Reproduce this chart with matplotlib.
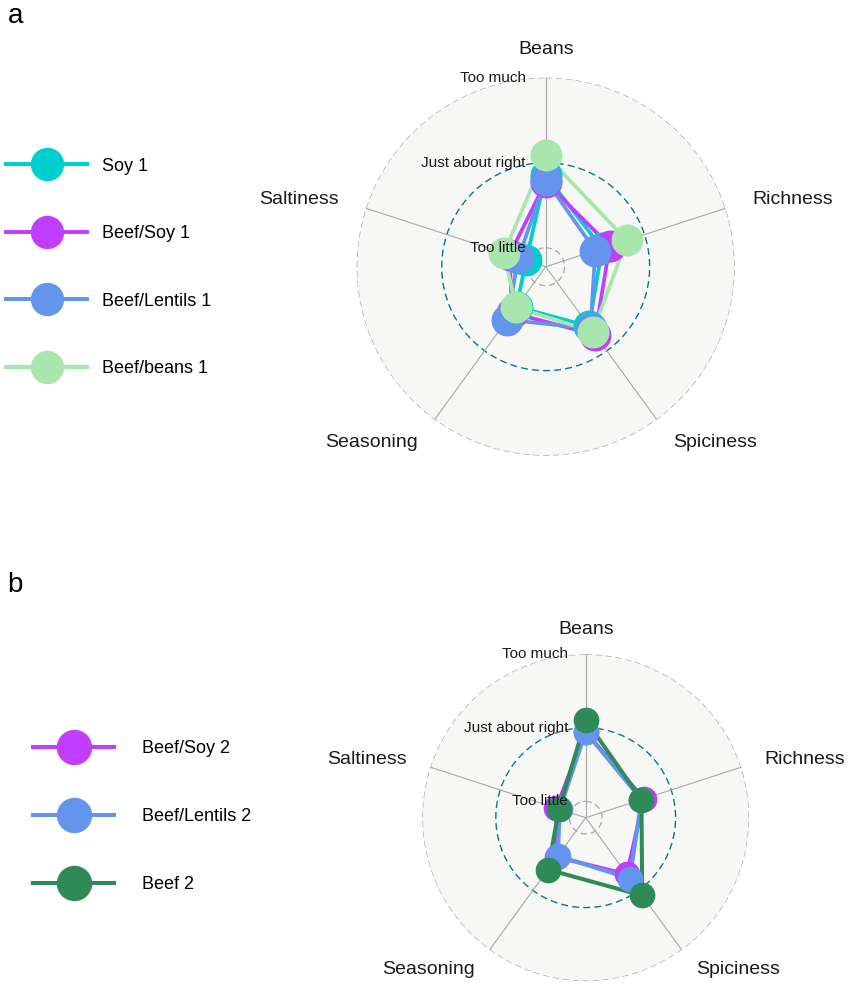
import numpy as np
import matplotlib
matplotlib.use("Agg")
import matplotlib.pyplot as plt
from matplotlib.lines import Line2D

plt.rcParams['font.family'] = ['Liberation Sans', 'DejaVu Sans']

# attributes, clockwise from the top
attributes = ["Beans", "Richness", "Spiciness", "Seasoning", "Saltiness"]

# JAR scale: 1 = too little, 3 = just about right, 5 = too much
grid_vals = [1, 3, 5]
grid_labels = ["Too little", "Just about right", "Too much"]
centre = 1 - (5 - 1) / 9

# panel a
names_a = ["Soy 1", "Beef/Soy 1", "Beef/Lentils 1", "Beef/beans 1"]
soy1 = [2.71, 1.95, 2.29, 1.72, 1.04]
beefsoy1 = [2.55, 2.14, 2.53, 1.90, 1.45]
beeflentils1 = [2.60, 1.78, 2.35, 2.10, 1.23]
beefbeans1 = [3.18, 2.56, 2.44, 1.74, 1.59]
colors_a = ["#00CDCD", "#BF3EFF", "#6495ED", "#A8E6AD"]

# panel b
names_b = ["Beef/Soy 2", "Beef/Lentils 2", "Beef 2"]
beefsoy2 = [2.88, 2.22, 2.46, 1.88, 1.40]
beeflentils2 = [2.89, 2.15, 2.60, 1.84, 1.30]
beef2 = [3.21, 2.15, 3.17, 2.30, 1.32]
colors_b = ["#BF3EFF", "#6495ED", "#2E8B57"]

W, H = 851, 986
fig = plt.figure(figsize=(W / 100, H / 100), dpi=100)


def radar(ax, series, colors, msize, lw, lab_off):
    theta = np.linspace(0, 2 * np.pi, len(attributes), endpoint=False)
    ax.set_theta_offset(np.pi / 2)
    ax.set_theta_direction(-1)
    ax.set_ylim(centre, 5)
    ax.set_facecolor("#F7F7F6")
    ax.grid(False)
    ax.set_xticks([])
    ax.set_yticks([])
    ax.spines['polar'].set_visible(False)

    circ = np.linspace(0, 2 * np.pi, 300)
    for g in grid_vals:
        if g == 3:
            ax.plot(circ, np.full_like(circ, g), color="#007A87", lw=1.0,
                    ls=(0, (5, 3)), zorder=1)
        else:
            ax.plot(circ, np.full_like(circ, g), color="#A8A8A8", lw=0.9,
                    ls=(0, (5, 3)), zorder=1)
    for t in theta:
        ax.plot([t, t], [centre, 5], color="#A8A8A8", lw=0.8, zorder=1)

    th = np.append(theta, theta[0])
    for vals, c in zip(series, colors):
        ax.plot(th, np.append(vals, vals[0]), color=c, lw=lw, zorder=3)
    for vals, c in zip(series, colors):
        ax.plot(theta, vals, 'o', color=c, ms=msize, mec=c, zorder=4)

    r_lab = centre + 1.15 * (5 - centre)
    for t, name in zip(theta, attributes):
        s = np.sin(t)
        ha = 'center' if abs(s) < 0.01 else ('left' if s > 0 else 'right')
        ax.text(t, r_lab, name, ha=ha, va='center', fontsize=14, color="#1A1A1A")

    for g, gl in zip(grid_vals, grid_labels):
        ax.annotate(gl, xy=(0, g), xycoords='data', xytext=(-lab_off, 0),
                    textcoords='offset pixels', ha='right', va='center',
                    fontsize=11, color="#1A1A1A", zorder=5)


# panel a axes: centre (545.7, 266.7) px, radius 189 px
ax_a = fig.add_axes([356.7 / W, 1 - 455.7 / H, 378 / W, 378 / H], projection='polar')
radar(ax_a, [soy1, beefsoy1, beeflentils1, beefbeans1], colors_a, 22, 2.7, 20)

# panel b axes: centre (585.7, 817.7) px, radius 163.4 px
ax_b = fig.add_axes([422.3 / W, 1 - 981.1 / H, 326.8 / W, 326.8 / H], projection='polar')
radar(ax_b, [beefsoy2, beeflentils2, beef2], colors_b, 17.5, 2.9, 17.5)

handles_a = [Line2D([], [], color=c, lw=2.9, marker='o', ms=23) for c in colors_a]
fig.legend(handles_a, names_a, loc='center left', bbox_to_anchor=(6 / W, 1 - 267.5 / H),
           frameon=False, fontsize=13, handlelength=4.5, handletextpad=0.8,
           labelspacing=2.8, borderpad=0, borderaxespad=0)

handles_b = [Line2D([], [], color=c, lw=2.9, marker='o', ms=24.5) for c in colors_b]
fig.legend(handles_b, names_b, loc='center left', bbox_to_anchor=(33 / W, 1 - 816.5 / H),
           frameon=False, fontsize=13, handlelength=4.5, handletextpad=1.55,
           labelspacing=2.83, borderpad=0, borderaxespad=0)

fig.text(8 / W, 1 - 23 / H, "a", fontsize=20, ha='left', va='baseline')
fig.text(7 / W, 1 - 592 / H, "b", fontsize=20, ha='left', va='baseline')

fig.savefig("out.png", dpi=100)
